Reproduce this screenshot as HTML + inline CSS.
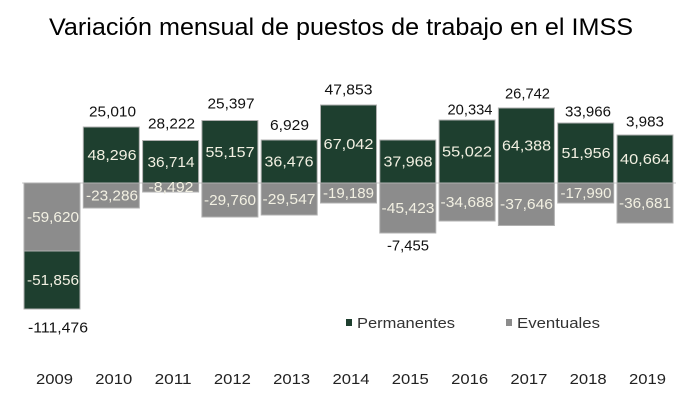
<!DOCTYPE html>
<html>
<head>
<meta charset="utf-8">
<style>
  html, body { margin:0; padding:0; background:#ffffff; }
  svg { display:block; }
  text { font-family: "Liberation Sans", Arial, sans-serif; }
</style>
</head>
<body>
<svg width="700" height="400" viewBox="0 0 700 400" xmlns="http://www.w3.org/2000/svg">
  <rect width="700" height="400" fill="#ffffff"/>
  <!-- Title -->
  <text x="49" y="35" font-size="24" fill="#000" textLength="584" lengthAdjust="spacingAndGlyphs">Variación mensual de puestos de trabajo en el IMSS</text>

  <!-- baseline -->
  <line x1="22" y1="183" x2="676" y2="183" stroke="#c8c8c8" stroke-width="1"/>

  <g stroke="#b0b0b0" stroke-width="1">
    <!-- 2009 -->
    <rect x="24" y="183" width="56" height="68" fill="#8c8c8c"/>
    <rect x="24" y="251" width="56" height="58" fill="#1e3f2f"/>
    <!-- 2010 -->
    <rect x="83.3" y="127" width="56" height="56" fill="#1e3f2f"/>
    <rect x="83.3" y="183" width="56" height="25" fill="#8c8c8c"/>
    <!-- 2011 -->
    <rect x="142.6" y="140.5" width="56" height="42.5" fill="#1e3f2f"/>
    <rect x="142.6" y="183" width="56" height="9" fill="#8c8c8c"/>
    <!-- 2012 -->
    <rect x="201.9" y="120.5" width="56" height="62.5" fill="#1e3f2f"/>
    <rect x="201.9" y="183" width="56" height="34" fill="#8c8c8c"/>
    <!-- 2013 -->
    <rect x="261.2" y="140" width="56" height="43" fill="#1e3f2f"/>
    <rect x="261.2" y="183" width="56" height="32" fill="#8c8c8c"/>
    <!-- 2014 -->
    <rect x="320.5" y="105" width="56" height="78" fill="#1e3f2f"/>
    <rect x="320.5" y="183" width="56" height="20" fill="#8c8c8c"/>
    <!-- 2015 -->
    <rect x="379.8" y="140" width="56" height="43" fill="#1e3f2f"/>
    <rect x="379.8" y="183" width="56" height="50" fill="#8c8c8c"/>
    <!-- 2016 -->
    <rect x="439.1" y="120" width="56" height="63" fill="#1e3f2f"/>
    <rect x="439.1" y="183" width="56" height="38" fill="#8c8c8c"/>
    <!-- 2017 -->
    <rect x="498.4" y="108" width="56" height="75" fill="#1e3f2f"/>
    <rect x="498.4" y="183" width="56" height="42.5" fill="#8c8c8c"/>
    <!-- 2018 -->
    <rect x="557.7" y="123" width="56" height="60" fill="#1e3f2f"/>
    <rect x="557.7" y="183" width="56" height="20" fill="#8c8c8c"/>
    <!-- 2019 -->
    <rect x="617" y="135" width="56" height="48" fill="#1e3f2f"/>
    <rect x="617" y="183" width="56" height="40" fill="#8c8c8c"/>
  </g>

  <!-- in-bar labels -->
  <g font-size="15" fill="#f2f0e2" text-anchor="middle" lengthAdjust="spacingAndGlyphs">
    <text x="53" y="222" textLength="52" lengthAdjust="spacingAndGlyphs">-59,620</text>
    <text x="53" y="285" textLength="52" lengthAdjust="spacingAndGlyphs">-51,856</text>

    <text x="112" y="160" textLength="49" lengthAdjust="spacingAndGlyphs">48,296</text>
    <text x="112" y="200.5" textLength="52" lengthAdjust="spacingAndGlyphs">-23,286</text>

    <text x="171" y="167" textLength="47" lengthAdjust="spacingAndGlyphs">36,714</text>
    <text x="171" y="192" textLength="45" lengthAdjust="spacingAndGlyphs">-8,492</text>

    <text x="230" y="157" textLength="49" lengthAdjust="spacingAndGlyphs">55,157</text>
    <text x="230" y="205" textLength="52" lengthAdjust="spacingAndGlyphs">-29,760</text>

    <text x="289" y="166.5" textLength="49" lengthAdjust="spacingAndGlyphs">36,476</text>
    <text x="289" y="204" textLength="53" lengthAdjust="spacingAndGlyphs">-29,547</text>

    <text x="348.5" y="149" textLength="50" lengthAdjust="spacingAndGlyphs">67,042</text>
    <text x="348.5" y="198" textLength="51" lengthAdjust="spacingAndGlyphs">-19,189</text>

    <text x="408" y="166.5" textLength="49" lengthAdjust="spacingAndGlyphs">37,968</text>
    <text x="408" y="213" textLength="53" lengthAdjust="spacingAndGlyphs">-45,423</text>

    <text x="467" y="156.5" textLength="50" lengthAdjust="spacingAndGlyphs">55,022</text>
    <text x="467" y="207" textLength="53" lengthAdjust="spacingAndGlyphs">-34,688</text>

    <text x="526.5" y="150.5" textLength="49" lengthAdjust="spacingAndGlyphs">64,388</text>
    <text x="526.5" y="209" textLength="53" lengthAdjust="spacingAndGlyphs">-37,646</text>

    <text x="586" y="158" textLength="49" lengthAdjust="spacingAndGlyphs">51,956</text>
    <text x="586" y="198" textLength="51" lengthAdjust="spacingAndGlyphs">-17,990</text>

    <text x="645" y="164" textLength="50" lengthAdjust="spacingAndGlyphs">40,664</text>
    <text x="645" y="208" textLength="52" lengthAdjust="spacingAndGlyphs">-36,681</text>
  </g>

  <!-- total labels -->
  <g font-size="15" fill="#111" text-anchor="middle">
    <text x="58" y="332.5" textLength="60" lengthAdjust="spacingAndGlyphs">-111,476</text>
    <text x="112.5" y="116.5" textLength="47" lengthAdjust="spacingAndGlyphs">25,010</text>
    <text x="171.5" y="128.5" textLength="47" lengthAdjust="spacingAndGlyphs">28,222</text>
    <text x="231" y="108.5" textLength="47" lengthAdjust="spacingAndGlyphs">25,397</text>
    <text x="289.5" y="130" textLength="39" lengthAdjust="spacingAndGlyphs">6,929</text>
    <text x="348.5" y="94.5" textLength="48" lengthAdjust="spacingAndGlyphs">47,853</text>
    <text x="408" y="250.5" textLength="42" lengthAdjust="spacingAndGlyphs">-7,455</text>
    <text x="470" y="114.5" textLength="45" lengthAdjust="spacingAndGlyphs">20,334</text>
    <text x="527.5" y="98.5" textLength="45" lengthAdjust="spacingAndGlyphs">26,742</text>
    <text x="588" y="116.5" textLength="46" lengthAdjust="spacingAndGlyphs">33,966</text>
    <text x="645" y="126.5" textLength="38" lengthAdjust="spacingAndGlyphs">3,983</text>
  </g>

  <!-- legend -->
  <rect x="346" y="319" width="6" height="7" fill="#1e3f2f"/>
  <text x="357" y="328" font-size="15" fill="#333" textLength="98" lengthAdjust="spacingAndGlyphs">Permanentes</text>
  <rect x="506" y="319" width="6" height="7" fill="#8c8c8c"/>
  <text x="517" y="328" font-size="15" fill="#333" textLength="83" lengthAdjust="spacingAndGlyphs">Eventuales</text>

  <!-- year labels -->
  <g font-size="15" fill="#222" text-anchor="middle">
    <text x="54.5" y="384" textLength="37" lengthAdjust="spacingAndGlyphs">2009</text>
    <text x="113.8" y="384" textLength="37" lengthAdjust="spacingAndGlyphs">2010</text>
    <text x="173.1" y="384" textLength="37" lengthAdjust="spacingAndGlyphs">2011</text>
    <text x="232.4" y="384" textLength="37" lengthAdjust="spacingAndGlyphs">2012</text>
    <text x="291.7" y="384" textLength="37" lengthAdjust="spacingAndGlyphs">2013</text>
    <text x="351" y="384" textLength="37" lengthAdjust="spacingAndGlyphs">2014</text>
    <text x="410.3" y="384" textLength="37" lengthAdjust="spacingAndGlyphs">2015</text>
    <text x="469.6" y="384" textLength="37" lengthAdjust="spacingAndGlyphs">2016</text>
    <text x="528.9" y="384" textLength="37" lengthAdjust="spacingAndGlyphs">2017</text>
    <text x="588.2" y="384" textLength="37" lengthAdjust="spacingAndGlyphs">2018</text>
    <text x="647.5" y="384" textLength="37" lengthAdjust="spacingAndGlyphs">2019</text>
  </g>
</svg>
</body>
</html>
